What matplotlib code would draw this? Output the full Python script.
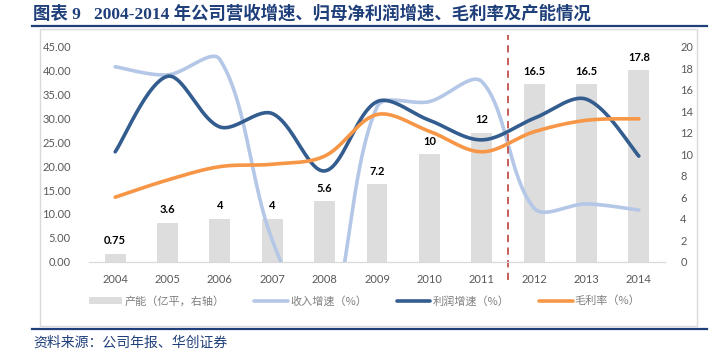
import numpy as np
import matplotlib.pyplot as plt
from matplotlib.lines import Line2D
from matplotlib.patches import Rectangle

plt.rcParams['font.family'] = ['Lato', 'Noto Sans CJK SC', 'DejaVu Sans']

years = ['2004', '2005', '2006', '2007', '2008', '2009', '2010', '2011', '2012', '2013', '2014']
capacity = [0.75, 3.6, 4, 4, 5.6, 7.2, 10, 12, 16.5, 16.5, 17.8]
capacity_labels = ['0.75', '3.6', '4', '4', '5.6', '7.2', '10', '12', '16.5', '16.5', '17.8']
revenue_growth = [40.8, 39.1, 42.3, 4.5, -15.0, 32.4, 33.5, 37.7, 11.2, 12.1, 10.8]
profit_growth = [23.0, 38.8, 28.2, 31.0, 19.0, 33.5, 29.6, 25.5, 30.0, 34.0, 22.1]
gross_margin = [13.5, 17.1, 19.9, 20.4, 22.1, 30.8, 27.3, 23.0, 27.2, 29.6, 29.9]

C_BAR = '#DDDDDD'
C_REV = '#B4C7E7'
C_PROFIT = '#335C8F'
C_MARGIN = '#F79646'
NAVY = '#1F3F7A'
GRAY = '#595959'

# approx pixel size of one x step / one y unit, used so the smoothing works in screen space
PX_X, PX_Y = 52.4, 4.78


def smooth(xs, ys, n=40):
    # Excel-like smoothed line: cubic bezier, tangent from neighbours,
    # control arm lengths weighted by the neighbouring segment lengths
    p = np.column_stack([np.asarray(xs, float) * PX_X, np.asarray(ys, float) * PX_Y])
    m = len(p)
    c_out = np.zeros_like(p)
    c_in = np.zeros_like(p)
    for i in range(m):
        if i == 0:
            c_out[i] = p[i] + (p[i + 1] - p[i]) / 6
            continue
        if i == m - 1:
            c_in[i] = p[i] - (p[i] - p[i - 1]) / 6
            continue
        tan = p[i + 1] - p[i - 1]
        d_prev = np.hypot(*(p[i] - p[i - 1]))
        d_next = np.hypot(*(p[i + 1] - p[i]))
        tot = d_prev + d_next
        c_out[i] = p[i] + tan * d_next / tot / 3
        c_in[i] = p[i] - tan * d_prev / tot / 3
    t = np.linspace(0, 1, n)[:, None]
    segs = []
    for i in range(m - 1):
        p0, c1, c2, p3 = p[i], c_out[i], c_in[i + 1], p[i + 1]
        segs.append((1 - t) ** 3 * p0 + 3 * (1 - t) ** 2 * t * c1
                    + 3 * (1 - t) * t ** 2 * c2 + t ** 3 * p3)
    pts = np.vstack(segs)
    return pts[:, 0] / PX_X, pts[:, 1] / PX_Y


fig = plt.figure(figsize=(7.15, 3.58), dpi=100)

# frame, title, rules
fig.patches.append(Rectangle((0.0559, 0.0902), 0.9189, 0.828, transform=fig.transFigure,
                             fill=False, edgecolor='#D9D9D9', linewidth=1.0))
fig.lines.append(Line2D([0.0448, 0.9888], [0.9282, 0.9282], transform=fig.transFigure,
                        color=NAVY, linewidth=1.6))
fig.lines.append(Line2D([0.0448, 0.9888], [0.0802, 0.0802], transform=fig.transFigure,
                        color=NAVY, linewidth=1.6))
fig.text(0.046, 0.962, '图表 9   2004-2014 年公司营收增速、归母净利润增速、毛利率及产能情况',
         family=['Liberation Serif', 'Noto Sans CJK SC'], fontweight='bold',
         fontsize=12.5, color=NAVY, va='center', ha='left')
fig.text(0.046, 0.042, '资料来源：公司年报、华创证券', family=['Noto Sans CJK SC'],
         fontsize=10, color=NAVY, va='center', ha='left', style='italic')

ax = fig.add_axes([0.1245, 0.269, 0.8056, 0.6006])
ax2 = ax.twinx()
ax.set_zorder(ax2.get_zorder() + 1)
ax.patch.set_visible(False)

x = np.arange(len(years))
bars = ax2.bar(x, capacity, width=0.4, color=C_BAR, label='产能（亿平，右轴）')
for xi, v, lab in zip(x, capacity, capacity_labels):
    ax2.annotate(lab, (xi, v), xytext=(0, 5.5), textcoords='offset points',
                 ha='center', va='bottom', fontsize=8, fontweight='bold', color='black')

for vals, col, lab in [(revenue_growth, C_REV, '收入增速（%）'),
                       (profit_growth, C_PROFIT, '利润增速（%）'),
                       (gross_margin, C_MARGIN, '毛利率（%）')]:
    sx, sy = smooth(x, vals)
    ax.plot(sx, sy, color=col, linewidth=2.6, solid_capstyle='round', label=lab)

ax.axvline(7.5, ymin=-0.085, ymax=1.054, color='#C0504D', linestyle=(0, (4, 3)),
           linewidth=1.3, clip_on=False)

ax.set_xlim(-0.5, len(years) - 0.5)
ax.set_ylim(0, 45)
ax2.set_ylim(0, 20)
ax.set_yticks(np.arange(0, 46, 5))
ax.set_yticklabels([f'{v:.2f}' for v in np.arange(0, 46, 5)])
ax2.set_yticks(np.arange(0, 21, 2))
ax.set_xticks(x)
ax.set_xticklabels(years)

for a in (ax, ax2):
    for s in ('top', 'left', 'right'):
        a.spines[s].set_visible(False)
    a.spines['bottom'].set_color('#D9D9D9')
    a.tick_params(length=0, labelsize=8, labelcolor=GRAY)
ax.tick_params(axis='y', pad=13)
ax2.tick_params(axis='y', pad=11)
ax.tick_params(axis='x', pad=9)

handles = [bars] + ax.get_lines()[:3]
labels = ['产能（亿平，右轴）', '收入增速（%）', '利润增速（%）', '毛利率（%）']
leg = fig.legend(handles, labels, loc='center', bbox_to_anchor=(0.51, 0.159), ncol=4,
                 frameon=False, handlelength=3.0, handletextpad=0.2,
                 columnspacing=2.7, prop={'family': ['Noto Sans CJK SC'], 'size': 8})
for t in leg.get_texts():
    t.set_color('#7F7F7F')

fig.savefig('out.png', dpi=100)
